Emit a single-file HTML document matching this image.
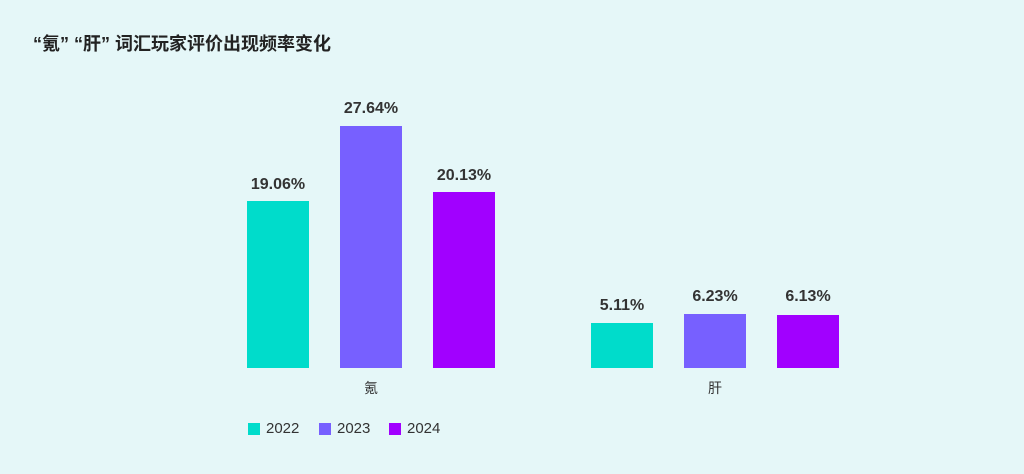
<!DOCTYPE html>
<html><head><meta charset="utf-8"><style>
body{margin:0;width:1024px;height:474px;background:#e5f7f8;font-family:"Liberation Sans","Noto Sans CJK SC",sans-serif;position:relative;overflow:hidden;color:#333}
.t{position:absolute;left:33px;top:30px;font-size:18px;font-weight:bold;color:#222;white-space:pre}
.b{position:absolute;width:62px}
.v{position:absolute;width:100px;text-align:center;font-size:16px;font-weight:bold;color:#333}
.c{position:absolute;font-size:14px;color:#333}
.sq{position:absolute;width:12px;height:12px;top:423px}
.lg{position:absolute;top:420px;font-size:15px;color:#333}
</style></head><body>
<div class="t">“氪” “肝” 词汇玩家评价出现频率变化</div>
<div class="b" style="left:247px;top:201px;height:167px;background:#00dccb"></div>
<div class="b" style="left:340px;top:126px;height:242px;background:#7760ff"></div>
<div class="b" style="left:433px;top:192px;height:176px;background:#a100ff"></div>
<div class="b" style="left:591px;top:323px;height:45px;background:#00dccb"></div>
<div class="b" style="left:684px;top:314px;height:54px;background:#7760ff"></div>
<div class="b" style="left:777px;top:315px;height:53px;background:#a100ff"></div>
<div class="v" style="left:228px;top:176px">19.06%</div>
<div class="v" style="left:321px;top:100px">27.64%</div>
<div class="v" style="left:414px;top:167px">20.13%</div>
<div class="v" style="left:572px;top:297px">5.11%</div>
<div class="v" style="left:665px;top:288px">6.23%</div>
<div class="v" style="left:758px;top:288px">6.13%</div>
<div class="c" style="left:364px;top:378px">氪</div>
<div class="c" style="left:708px;top:378px">肝</div>
<div class="sq" style="left:248px;background:#00dccb"></div><div class="lg" style="left:266px">2022</div>
<div class="sq" style="left:319px;background:#7760ff"></div><div class="lg" style="left:337px">2023</div>
<div class="sq" style="left:389px;background:#a100ff"></div><div class="lg" style="left:407px">2024</div>
</body></html>
